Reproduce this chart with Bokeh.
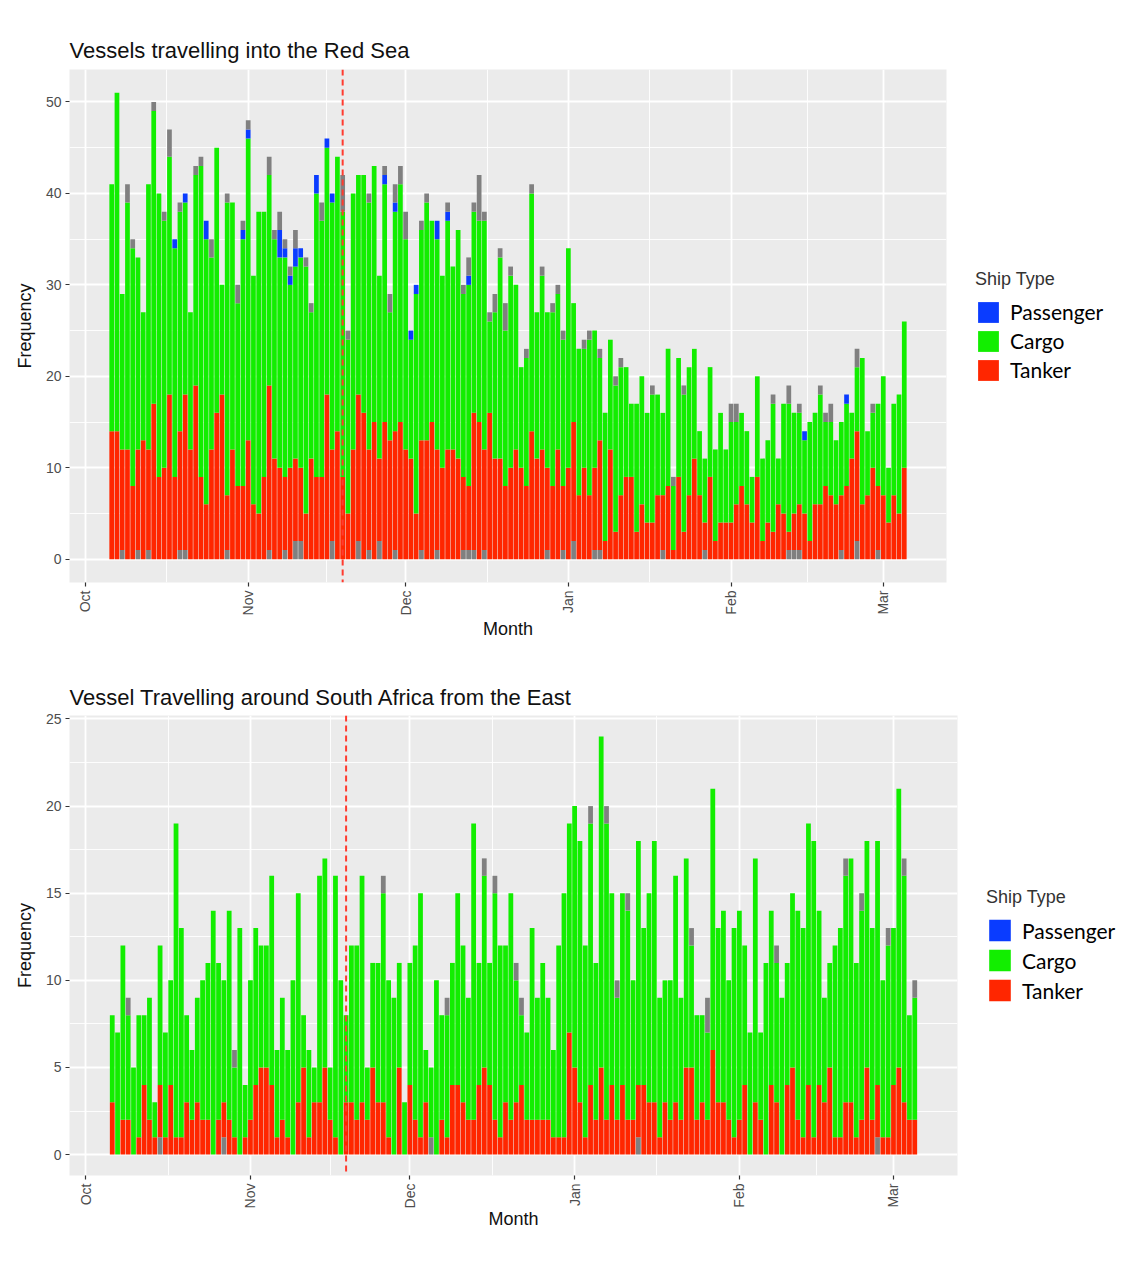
import math
import pandas as pd
from bokeh.plotting import figure
from bokeh.models import (ColumnDataSource, Range1d, FixedTicker, DatetimeTickFormatter,
                          Span, Legend, LegendItem)
from bokeh.layouts import column
from bokeh.embed import file_html
from bokeh.resources import INLINE

# ---------------- data ----------------
START_DATE = "2023-10-06"
MONTH_TICKS = ["2023-10-01", "2023-11-01", "2023-12-01", "2024-01-01", "2024-02-01", "2024-03-01"]
EVENT_DATE = "2023-11-19"
SHIP_TYPES = ["Passenger", "Cargo", "Tanker"]

# Vessels travelling into the Red Sea (daily counts, from 2023-10-06)
RS_TANKER = [
    14, 14, 11, 12, 8, 11, 13, 11, 17, 9,
    10, 18, 9, 13, 17, 12, 19, 9, 6, 12,
    16, 18, 6, 12, 8, 8, 13, 6, 5, 9,
    18, 11, 10, 8, 10, 9, 8, 5, 11, 9,
    9, 18, 10, 14, 9, 5, 12, 16, 16, 11,
    15, 9, 15, 13, 13, 15, 12, 11, 5, 12,
    13, 15, 11, 10, 12, 12, 11, 8, 7, 15,
    15, 11, 16, 11, 11, 8, 10, 12, 10, 8,
    14, 11, 12, 9, 8, 12, 7, 10, 13, 7,
    10, 7, 9, 12, 2, 12, 3, 7, 9, 9,
    3, 6, 4, 4, 7, 6, 8, 1, 9, 3,
    7, 11, 7, 3, 9, 2, 4, 4, 4, 6,
    8, 6, 4, 9, 2, 4, 3, 6, 5, 2,
    4, 5, 5, 2, 6, 6, 8, 7, 6, 6,
    8, 11, 12, 6, 7, 10, 7, 7, 4, 7,
    5, 10,
]
RS_CARGO = [
    27, 37, 17, 27, 26, 21, 14, 29, 32, 31,
    27, 26, 25, 24, 21, 15, 23, 34, 29, 21,
    29, 12, 32, 27, 20, 27, 33, 25, 33, 29,
    23, 24, 23, 24, 20, 21, 23, 27, 16, 31,
    28, 27, 27, 30, 29, 19, 28, 24, 26, 27,
    28, 20, 26, 14, 24, 26, 23, 13, 24, 23,
    26, 22, 23, 21, 25, 20, 25, 20, 22, 22,
    22, 25, 10, 16, 22, 17, 21, 18, 11, 14,
    26, 16, 19, 17, 19, 17, 16, 24, 13, 16,
    13, 17, 15, 9, 14, 12, 16, 14, 12, 8,
    14, 14, 12, 14, 11, 9, 15, 7, 13, 15,
    14, 12, 7, 7, 12, 10, 12, 8, 11, 9,
    8, 8, 5, 11, 9, 9, 14, 5, 12, 14,
    11, 10, 8, 13, 10, 12, 7, 8, 7, 8,
    9, 5, 7, 16, 7, 6, 9, 13, 6, 10,
    13, 16,
]
RS_PASSENGER = [
    0, 0, 0, 0, 0, 0, 0, 0, 0, 0,
    0, 0, 1, 0, 1, 0, 0, 0, 2, 0,
    0, 0, 0, 0, 0, 1, 1, 0, 0, 0,
    0, 0, 3, 1, 1, 2, 1, 0, 0, 2,
    0, 1, 1, 0, 0, 0, 0, 0, 0, 0,
    0, 0, 1, 0, 1, 0, 0, 1, 1, 0,
    0, 0, 2, 0, 1, 0, 0, 0, 1, 0,
    0, 0, 0, 0, 0, 0, 0, 0, 0, 0,
    0, 0, 0, 0, 0, 0, 0, 0, 0, 0,
    0, 0, 0, 0, 0, 0, 0, 0, 0, 0,
    0, 0, 0, 0, 0, 0, 0, 0, 0, 0,
    0, 0, 0, 0, 0, 0, 0, 0, 0, 0,
    0, 0, 0, 0, 0, 0, 0, 0, 0, 0,
    0, 0, 1, 0, 0, 0, 0, 0, 0, 0,
    1, 0, 0, 0, 0, 0, 0, 0, 0, 0,
    0, 0,
]
RS_OTHER = [
    0, 0, 0, 2, 1, 0, 0, 0, 1, 0,
    1, 3, 0, 1, 0, 0, 1, 1, 0, 2,
    0, 0, 1, 0, 2, 1, 1, 0, 0, 0,
    2, 1, 2, 1, 1, 2, 0, 1, 1, 0,
    2, 0, 0, 0, 4, 1, 0, 0, 0, 1,
    0, 0, 1, 2, 2, 2, 3, 0, 0, 1,
    1, 0, 0, 0, 1, 0, 0, 1, 2, 1,
    5, 1, 1, 2, 1, 3, 1, 0, 0, 1,
    1, 0, 1, 0, 1, 1, 1, 0, 0, 0,
    1, 1, 0, 1, 0, 0, 1, 1, 0, 0,
    0, 0, 0, 1, 0, 0, 0, 1, 0, 1,
    0, 0, 0, 0, 0, 0, 0, 0, 2, 2,
    0, 0, 0, 0, 0, 0, 1, 0, 0, 2,
    0, 1, 0, 0, 0, 1, 1, 2, 0, 0,
    0, 0, 2, 0, 0, 1, 0, 0, 0, 0,
    0, 0,
]
RS_UNKNOWN = [
    0, 0, 1, 0, 0, 1, 0, 1, 0, 0,
    0, 0, 0, 1, 1, 0, 0, 0, 0, 0,
    0, 0, 1, 0, 0, 0, 0, 0, 0, 0,
    1, 0, 0, 1, 0, 2, 2, 0, 0, 0,
    0, 0, 2, 0, 0, 0, 0, 2, 0, 1,
    0, 2, 0, 0, 1, 0, 0, 0, 0, 1,
    0, 0, 1, 0, 0, 0, 0, 1, 1, 1,
    0, 1, 0, 0, 0, 0, 0, 0, 0, 0,
    0, 0, 0, 1, 0, 0, 1, 0, 2, 0,
    0, 0, 1, 1, 0, 0, 0, 0, 0, 0,
    0, 0, 0, 0, 0, 1, 0, 0, 0, 0,
    0, 0, 0, 1, 0, 0, 0, 0, 0, 0,
    0, 0, 0, 0, 0, 0, 0, 0, 0, 1,
    1, 1, 0, 0, 0, 0, 0, 0, 0, 1,
    0, 0, 2, 0, 0, 0, 1, 0, 0, 0,
    0, 0,
]

# Vessels travelling around South Africa from the East (daily counts, from 2023-10-06)
SA_TANKER = [
    3, 0, 2, 2, 0, 1, 4, 2, 1, 3,
    1, 4, 1, 1, 3, 2, 3, 2, 2, 0,
    2, 2, 2, 1, 0, 1, 2, 4, 5, 5,
    4, 1, 2, 1, 0, 3, 5, 1, 3, 3,
    5, 2, 1, 0, 3, 3, 2, 3, 2, 5,
    3, 3, 1, 0, 5, 0, 4, 2, 1, 3,
    0, 0, 2, 1, 4, 4, 3, 2, 2, 4,
    5, 4, 2, 1, 3, 2, 3, 4, 2, 2,
    2, 2, 2, 1, 1, 1, 7, 5, 3, 1,
    4, 2, 5, 2, 4, 2, 4, 2, 2, 3,
    4, 3, 3, 1, 3, 2, 3, 2, 5, 5,
    2, 3, 2, 6, 3, 3, 2, 1, 2, 4,
    0, 3, 2, 0, 4, 3, 0, 4, 5, 2,
    1, 4, 1, 4, 3, 5, 1, 1, 3, 3,
    1, 2, 5, 2, 3, 1, 1, 4, 5, 3,
    2, 2,
]
SA_CARGO = [
    5, 7, 10, 6, 5, 7, 4, 7, 2, 8,
    6, 6, 18, 12, 5, 4, 6, 8, 9, 14,
    9, 7, 12, 4, 13, 3, 8, 9, 7, 7,
    12, 5, 7, 5, 10, 12, 3, 5, 2, 13,
    12, 3, 15, 10, 5, 9, 10, 13, 3, 6,
    8, 12, 9, 9, 6, 3, 7, 10, 14, 3,
    4, 10, 6, 7, 7, 11, 9, 7, 17, 7,
    11, 7, 13, 11, 9, 13, 7, 4, 5, 11,
    7, 9, 7, 5, 11, 14, 12, 15, 15, 11,
    15, 9, 19, 17, 11, 7, 11, 12, 8, 14,
    9, 12, 15, 8, 7, 8, 13, 7, 12, 7,
    6, 5, 5, 15, 10, 11, 8, 12, 12, 8,
    7, 14, 5, 11, 10, 8, 9, 7, 10, 12,
    12, 15, 17, 10, 6, 6, 11, 12, 13, 14,
    10, 12, 13, 11, 14, 9, 11, 9, 16, 13,
    6, 7,
]
SA_PASSENGER = [
    0, 0, 0, 0, 0, 0, 0, 0, 0, 0,
    0, 0, 0, 0, 0, 0, 0, 0, 0, 0,
    0, 0, 0, 0, 0, 0, 0, 0, 0, 0,
    0, 0, 0, 0, 0, 0, 0, 0, 0, 0,
    0, 0, 0, 0, 0, 0, 0, 0, 0, 0,
    0, 0, 0, 0, 0, 0, 0, 0, 0, 0,
    0, 0, 0, 0, 0, 0, 0, 0, 0, 0,
    0, 0, 0, 0, 0, 0, 0, 0, 0, 0,
    0, 0, 0, 0, 0, 0, 0, 0, 0, 0,
    0, 0, 0, 0, 0, 0, 0, 0, 0, 0,
    0, 0, 0, 0, 0, 0, 0, 0, 0, 0,
    0, 0, 0, 0, 0, 0, 0, 0, 0, 0,
    0, 0, 0, 0, 0, 0, 0, 0, 0, 0,
    0, 0, 0, 0, 0, 0, 0, 0, 0, 0,
    0, 0, 0, 0, 0, 0, 0, 0, 0, 0,
    0, 0,
]
SA_OTHER = [
    0, 0, 0, 1, 0, 0, 0, 0, 0, 0,
    0, 0, 0, 0, 0, 0, 0, 0, 0, 0,
    0, 0, 0, 1, 0, 0, 0, 0, 0, 0,
    0, 0, 0, 0, 0, 0, 0, 0, 0, 0,
    0, 0, 0, 0, 0, 0, 0, 0, 0, 0,
    0, 1, 0, 0, 0, 0, 0, 0, 0, 0,
    0, 0, 0, 1, 0, 0, 0, 0, 0, 0,
    1, 0, 1, 0, 0, 0, 1, 1, 0, 0,
    0, 0, 0, 0, 0, 0, 0, 0, 0, 0,
    1, 0, 0, 1, 0, 1, 0, 1, 0, 0,
    0, 0, 0, 0, 0, 0, 0, 0, 0, 1,
    0, 0, 2, 0, 0, 0, 0, 0, 0, 0,
    0, 0, 0, 0, 0, 1, 0, 0, 0, 0,
    0, 0, 0, 0, 0, 0, 0, 0, 1, 0,
    0, 1, 0, 0, 0, 0, 1, 0, 0, 1,
    0, 1,
]
SA_UNKNOWN = [
    0, 0, 0, 0, 0, 0, 0, 0, 0, 1,
    0, 0, 0, 0, 0, 0, 0, 0, 0, 0,
    0, 1, 0, 0, 0, 0, 0, 0, 0, 0,
    0, 0, 0, 0, 0, 0, 0, 0, 0, 0,
    0, 0, 0, 0, 0, 0, 0, 0, 0, 0,
    0, 0, 0, 0, 0, 0, 0, 0, 0, 0,
    1, 0, 0, 0, 0, 0, 0, 0, 0, 0,
    0, 0, 0, 0, 0, 0, 0, 0, 0, 0,
    0, 0, 0, 0, 0, 0, 0, 0, 0, 0,
    0, 0, 0, 0, 0, 0, 0, 0, 0, 1,
    0, 0, 0, 0, 0, 0, 0, 0, 0, 0,
    0, 0, 0, 0, 0, 0, 0, 0, 0, 0,
    0, 0, 0, 0, 0, 0, 0, 0, 0, 0,
    0, 0, 0, 0, 0, 0, 0, 0, 0, 0,
    0, 0, 0, 0, 1, 0, 0, 0, 0, 0,
    0, 0,
]

# ---------------- style ----------------
COL_PASSENGER = "#0A3CFF"
COL_CARGO = "#12EE00"
COL_TANKER = "#FF2600"
COL_NA = "#808080"
PANEL_BG = "#EBEBEB"
AXIS_FONT = "Liberation Sans"
LEGEND_FONT = "Lato"
DAY_MS = 86400000


def ms(d):
    return pd.Timestamp(d).value // 10**6


def make_chart(title, tanker, cargo, passenger, other, unknown,
               y_major, y_minor, frame_w, frame_h, b_left, b_top, b_bottom, b_right,
               swatch, label_size, xlab_standoff, title_standoff):
    n = len(tanker)
    dates = pd.date_range(START_DATE, periods=n, freq="D")
    src = ColumnDataSource(dict(date=dates, unknown=unknown, tanker=tanker, cargo=cargo,
                                passenger=passenger, other=other))
    totals = [a + b + c + d + e for a, b, c, d, e in zip(tanker, cargo, passenger, other, unknown)]
    ymax = max(totals)
    ypad = 0.05 * ymax
    x0 = ms(dates[0]) - 0.45 * DAY_MS
    x1 = ms(dates[-1]) + 0.45 * DAY_MS
    xpad = 0.05 * (x1 - x0)

    p = figure(x_axis_type="datetime", output_backend="svg", toolbar_location=None,
               frame_width=frame_w, frame_height=frame_h,
               x_range=Range1d(x0 - xpad, x1 + xpad), y_range=Range1d(-ypad, ymax + ypad),
               min_border_left=b_left, min_border_top=b_top, min_border_bottom=b_bottom,
               min_border_right=b_right, background_fill_color=PANEL_BG,
               border_fill_color="white", outline_line_color=None)
    p.title.text = title
    p.title.text_font = AXIS_FONT
    p.title.text_font_size = "22px"
    p.title.text_font_style = "normal"
    p.title.text_color = "#111111"
    p.title.align = "left"
    p.title.standoff = title_standoff

    rs = p.vbar_stack(["unknown", "tanker", "cargo", "passenger", "other"], x="date",
                      width=0.9 * DAY_MS, source=src,
                      color=[COL_NA, COL_TANKER, COL_CARGO, COL_PASSENGER, COL_NA],
                      line_color=None)

    p.add_layout(Span(location=ms(EVENT_DATE), dimension="height", line_color="#FF3B2F",
                      line_width=2, line_dash="6 4"))

    tick_ms = [ms(d) for d in MONTH_TICKS]
    minor_ms = [(a + b) / 2 for a, b in zip(tick_ms[:-1], tick_ms[1:])]
    p.xaxis.ticker = FixedTicker(ticks=tick_ms, minor_ticks=minor_ms)
    p.xaxis.formatter = DatetimeTickFormatter(days="%b", months="%b", years="%b",
                                              hours="%b", minutes="%b", seconds="%b",
                                              milliseconds="%b", microseconds="%b")
    p.xaxis.major_label_orientation = math.pi / 2
    p.yaxis.ticker = FixedTicker(ticks=y_major, minor_ticks=y_minor)

    for ax in (p.xaxis[0], p.yaxis[0]):
        ax.axis_line_color = None
        ax.major_tick_line_color = "#333333"
        ax.major_tick_line_width = 1.2
        ax.major_tick_out = 4
        ax.major_tick_in = 0
        ax.minor_tick_line_color = None
        ax.major_label_text_font = AXIS_FONT
        ax.major_label_text_font_size = "14px"
        ax.major_label_text_color = "#4D4D4D"
        ax.major_label_standoff = 4
        ax.axis_label_text_font = AXIS_FONT
        ax.axis_label_text_font_size = "18px"
        ax.axis_label_text_font_style = "normal"
        ax.axis_label_text_color = "#111111"
    p.xaxis.axis_label = "Month"
    p.yaxis.axis_label = "Frequency"
    p.xaxis.axis_label_standoff = xlab_standoff
    p.yaxis.axis_label_standoff = 8

    for g in (p.xgrid[0], p.ygrid[0]):
        g.grid_line_color = "white"
        g.grid_line_width = 1.8
        g.minor_grid_line_color = "white"
        g.minor_grid_line_width = 0.9

    legend = Legend(items=[LegendItem(label="Passenger", renderers=[rs[3]]),
                           LegendItem(label="Cargo", renderers=[rs[2]]),
                           LegendItem(label="Tanker", renderers=[rs[1]])],
                    title="Ship Type", location="left", orientation="vertical",
                    margin=29, padding=0, spacing=3,
                    glyph_width=swatch, glyph_height=swatch, label_height=swatch,
                    label_standoff=9, label_text_font=LEGEND_FONT,
                    label_text_font_size=label_size, label_text_color="black",
                    title_text_font=AXIS_FONT, title_text_font_size="18px",
                    title_text_font_style="normal", title_text_color="#333333",
                    title_standoff=9, border_line_color=None, background_fill_alpha=0)
    p.add_layout(legend, "right")
    return p


p1 = make_chart("Vessels travelling into the Red Sea",
                RS_TANKER, RS_CARGO, RS_PASSENGER, RS_OTHER, RS_UNKNOWN,
                [0, 10, 20, 30, 40, 50], [5, 15, 25, 35, 45],
                877, 513, 69, 69, 76, 176, 26, "21px", 1, 14)
p2 = make_chart("Vessel Travelling around South Africa from the East",
                SA_TANKER, SA_CARGO, SA_PASSENGER, SA_OTHER, SA_UNKNOWN,
                [0, 5, 10, 15, 20, 25], [2.5, 7.5, 12.5, 17.5, 22.5],
                888, 460, 66, 57, 60, 172, 27, "21px", -2, 12)

layout = column(p1, p2, spacing=0)
open("out.html", "w").write(file_html(layout, INLINE))
